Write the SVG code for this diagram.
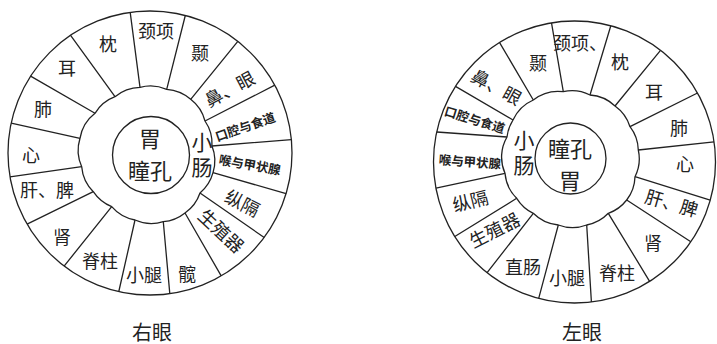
<svg xmlns="http://www.w3.org/2000/svg" width="717" height="344" viewBox="0 0 717 344">
<style>
.ln{fill:none;stroke:#222;stroke-width:1.3;stroke-linejoin:round}
.t{font-family:"Noto Sans CJK SC","Noto Sans CJK JP",sans-serif;font-weight:400;fill:#222;text-anchor:middle;dominant-baseline:central}
.o{font-size:18px}
.b{font-size:12.5px;font-weight:700}
.c{font-size:21px;writing-mode:vertical-rl;text-orientation:upright;letter-spacing:4px}
.p{font-size:22px}
.cap{font-size:20px}
</style>
<rect width="717" height="344" fill="#fff"/>
<g id="right-eye">
<circle class="ln" cx="150" cy="153" r="142"/>
<path class="ln" d="M140,87.3 A40,40 0 0 1 166.7,89.3 A40,40 0 0 1 190.7,99.3 A40,40 0 0 1 205,121 A40,40 0 0 1 212,146 A40,40 0 0 1 213,172.7 A40,40 0 0 1 200,193 A40,40 0 0 1 185,213 A40,40 0 0 1 163.3,221.7 A40,40 0 0 1 135,220 A40,40 0 0 1 111.7,206.7 A40,40 0 0 1 93.3,191.7 A40,40 0 0 1 81.7,166.7 A40,40 0 0 1 80,138.3 A40,40 0 0 1 95,113.3 A40,40 0 0 1 115,96.7 A40,40 0 0 1 140,87.3 Z"/>
<circle class="ln" cx="151" cy="155" r="38.5"/>
</g>
<g id="left-eye">
<circle class="ln" cx="574.5" cy="162" r="141"/>
<path class="ln" d="M563.3,91.7 A40,40 0 0 1 590,95 A40,40 0 0 1 615,106 A40,40 0 0 1 630,126.7 A40,40 0 0 1 638.3,150 A40,40 0 0 1 635,176.7 A40,40 0 0 1 626.7,200 A40,40 0 0 1 608.3,213.3 A40,40 0 0 1 586.7,225 A40,40 0 0 1 558.3,225 A40,40 0 0 1 533.3,213.3 A40,40 0 0 1 516.7,198.3 A40,40 0 0 1 505,173.3 A40,40 0 0 1 507,137 A40,40 0 0 1 513,120 A40,40 0 0 1 533.3,100 A40,40 0 0 1 563.3,91.7 Z"/>
<circle class="ln" cx="570.5" cy="158.5" r="35.5"/>
</g>
<g id="connectors" class="ln">
<path d="M130.2,12.4L140,87.3M185.3,15.5L166.7,89.3M237.8,41.4L190.7,99.3M274.8,85.2L205,121M291.4,139.6L212,146M286.1,193.6L213,172.7M264.2,237.5L200,193M221.2,275.9L185,213M169.8,293.6L163.3,221.7M118.8,291.5L135,220M64.1,266.1L111.7,206.7M27.1,224.2L93.3,191.7M10,176.9L81.7,166.7M11.2,123.2L80,138.3M30.6,76.1L95,113.3M70.6,35.3L115,96.7"/>
<path d="M551.5,22.9L563.3,91.7M610.8,25.7L590,95M660.5,50.3L615,106M697.5,93L630,126.7M714.1,141.9L638.3,150M710.2,200.2L635,176.7M690.8,241.7L626.7,200M649.6,281.3L608.3,213.3M591.4,302L586.7,225M538.7,298.4L558.3,225M487.1,272.7L533.3,213.3M454.8,236.5L516.7,198.3M436,188.2L505,173.3M436.7,132L507,137M455.5,86.4L513,120M499.6,42.6L533.3,100"/>
</g>
<g id="right-labels">
<text class="t o" x="156" y="30">颈项</text>
<text class="t o" x="200" y="52">颞</text>
<text class="t o" x="229" y="88" transform="rotate(-28 229 88)">鼻、眼</text>
<text class="t b" x="245" y="126" transform="rotate(-19 245 126)">口腔与食道</text>
<text class="t b" x="250" y="164" transform="rotate(10 250 164)">喉与甲状腺</text>
<text class="t o" x="243" y="202" transform="rotate(27 243 202)">纵隔</text>
<text class="t o" x="222" y="230" transform="rotate(43 222 230)">生殖器</text>
<text class="t o" x="187" y="273">髋</text>
<text class="t o" x="144" y="274">小腿</text>
<text class="t o" x="100" y="260">脊柱</text>
<text class="t o" x="62" y="236">肾</text>
<text class="t o" x="47" y="189">肝、脾</text>
<text class="t o" x="31" y="154">心</text>
<text class="t o" x="43" y="108">肺</text>
<text class="t o" x="67" y="67">耳</text>
<text class="t o" x="108" y="43">枕</text>
<text class="t c" x="202" y="157">小肠</text>
<text class="t p" x="150" y="137">胃</text>
<text class="t p" x="150" y="169">瞳孔</text>
<text class="t cap" x="152" y="331">右眼</text>
</g>
<g id="left-labels">
<text class="t o" x="580" y="42">颈项、</text>
<text class="t o" x="620" y="61">枕</text>
<text class="t o" x="654" y="91">耳</text>
<text class="t o" x="679" y="127">肺</text>
<text class="t o" x="685" y="163">心</text>
<text class="t o" x="672" y="202" transform="rotate(16 672 202)">肝、脾</text>
<text class="t o" x="653" y="242">肾</text>
<text class="t o" x="617" y="272">脊柱</text>
<text class="t o" x="567" y="277">小腿</text>
<text class="t o" x="523" y="266">直肠</text>
<text class="t o" x="494" y="229" transform="rotate(-27 494 229)">生殖器</text>
<text class="t o" x="470" y="200" transform="rotate(-14 470 200)">纵隔</text>
<text class="t b" x="470" y="161" transform="rotate(4 470 161)">喉与甲状腺</text>
<text class="t b" x="475" y="119" transform="rotate(17 475 119)">口腔与食道</text>
<text class="t o" x="497" y="86" transform="rotate(29 497 86)">鼻、眼</text>
<text class="t o" x="538" y="62">颞</text>
<text class="t c" x="524" y="155">小肠</text>
<text class="t p" x="570" y="147">瞳孔</text>
<text class="t p" x="570" y="179">胃</text>
<text class="t cap" x="582" y="331">左眼</text>
</g>
</svg>
